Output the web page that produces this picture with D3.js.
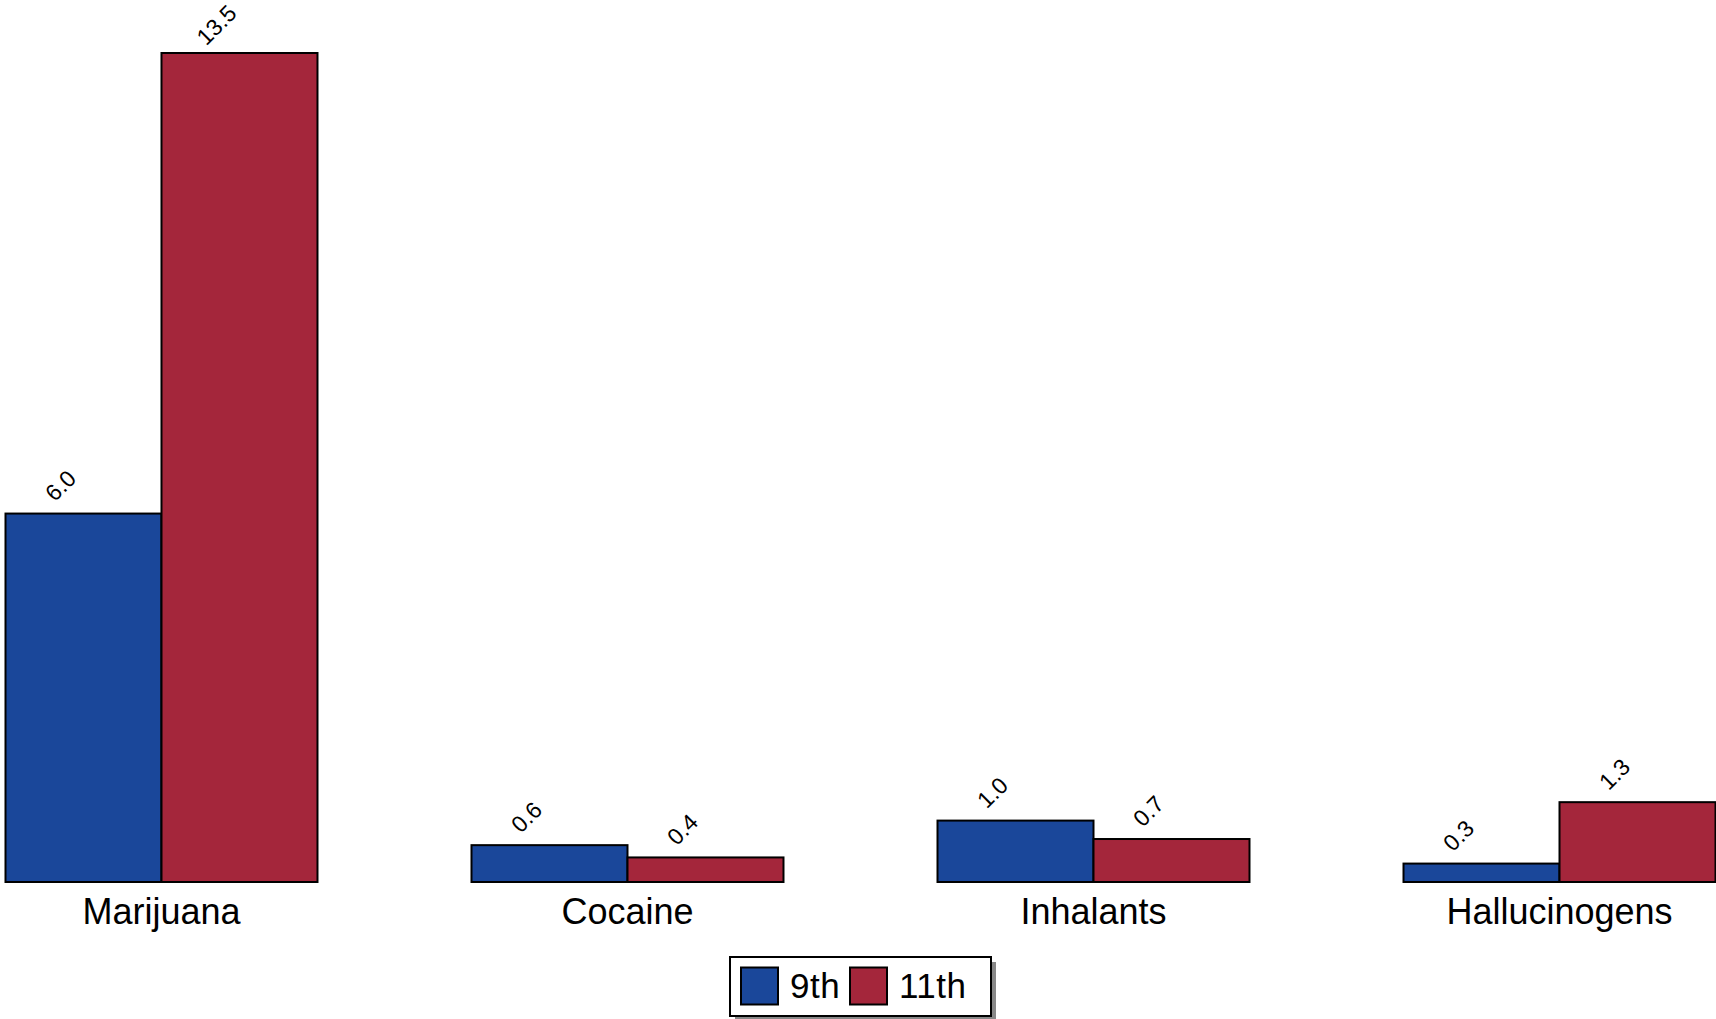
<!DOCTYPE html>
<html>
<head>
<meta charset="utf-8">
<script src="https://cdn.jsdelivr.net/npm/d3@7"></script>
<style>
  body { margin: 0; background: #fff; }
  text { font-family: "Liberation Sans", Arial, sans-serif; }
</style>
</head>
<body>
<script>
// data
var categories = ["Marijuana", "Cocaine", "Inhalants", "Hallucinogens"];
var series = ["9th", "11th"];
var grade9 = [6.0, 0.6, 1.0, 0.3];
var grade11 = [13.5, 0.4, 0.7, 1.3];

var width = 1716, height = 1019,
    margin = {top: 53, right: 0.5, bottom: 137, left: 5.5};

var color = d3.scaleOrdinal()
    .domain(series)
    .range(["#1a479a", "#a4263b"]);

var svg = d3.select("body").append("svg")
    .attr("width", width)
    .attr("height", height);

// scales
var x = d3.scaleBand()
    .domain(categories)
    .range([margin.left, width - margin.right])
    .paddingInner(0.3305)
    .paddingOuter(0);

var xInner = d3.scaleBand()
    .domain(series)
    .range([0, x.bandwidth()]);

var y = d3.scaleLinear()
    .domain([0, 13.5])
    .range([height - margin.bottom, margin.top]);

var rows = [];
categories.forEach(function(c, i) {
    rows.push({cat: c, s: "9th", v: grade9[i]});
    rows.push({cat: c, s: "11th", v: grade11[i]});
});

// bars
svg.selectAll(".bar")
    .data(rows)
  .enter().append("rect")
    .attr("class", "bar")
    .attr("x", d => x(d.cat) + xInner(d.s))
    .attr("y", d => y(d.v))
    .attr("width", xInner.bandwidth())
    .attr("height", d => y(0) - y(d.v))
    .style("fill", d => color(d.s))
    .style("stroke", "#000")
    .style("stroke-width", 2);

// value labels, rotated
svg.selectAll(".val")
    .data(rows)
  .enter().append("text")
    .attr("class", "val")
    .attr("transform", function(d) {
        var cx = x(d.cat) + xInner(d.s) + xInner.bandwidth() / 2 - 23;
        var cy = y(d.v) - 28;
        return "translate(" + cx + "," + cy + ") rotate(-45)";
    })
    .attr("text-anchor", "middle")
    .attr("dominant-baseline", "central")
    .style("font-size", "23px")
    .text(d => d.v.toFixed(1));

// category labels
svg.selectAll(".cat")
    .data(categories)
  .enter().append("text")
    .attr("class", "cat")
    .attr("x", d => x(d) + x.bandwidth() / 2)
    .attr("y", y(0) + 42)
    .attr("text-anchor", "middle")
    .style("font-size", "36px")
    .text(d => d);

// legend
var lw = 261, lh = 59;
var lx = (margin.left + width - margin.right) / 2 - lw / 2, ly = 957;
var legend = svg.append("g").attr("transform", "translate(" + lx + "," + ly + ")");

legend.append("rect")
    .attr("x", 5).attr("y", 5)
    .attr("width", lw).attr("height", lh)
    .style("fill", "#888");

legend.append("rect")
    .attr("width", lw).attr("height", lh)
    .style("fill", "#fff")
    .style("stroke", "#000")
    .style("stroke-width", 2);

var itemX = [11, 120];
var item = legend.selectAll(".item")
    .data(series)
  .enter().append("g")
    .attr("transform", (d, i) => "translate(" + itemX[i] + ",10.5)");

item.append("rect")
    .attr("width", 37).attr("height", 37)
    .style("fill", d => color(d))
    .style("stroke", "#000")
    .style("stroke-width", 2);

item.append("text")
    .attr("x", 49)
    .attr("y", 30)
    .style("font-size", "35px")
    .style("letter-spacing", "0.5px")
    .text(d => d);
</script>
</body>
</html>
